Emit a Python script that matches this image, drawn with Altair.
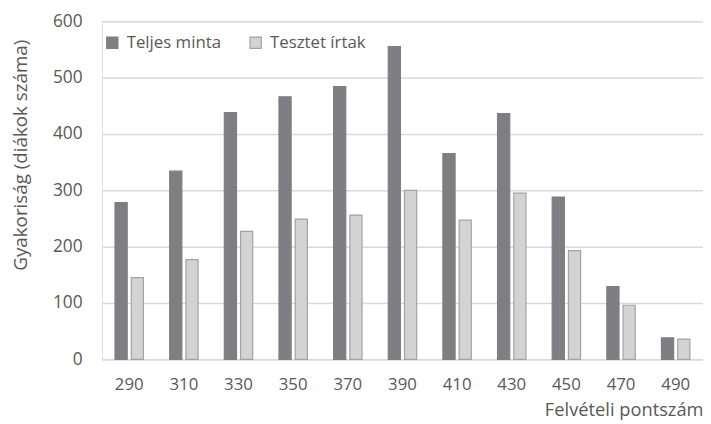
import altair as alt
import pandas as pd

scores = ["290", "310", "330", "350", "370", "390", "410", "430", "450", "470", "490"]
full_sample = [278, 334, 438, 466, 484, 555, 365, 436, 288, 129, 38]
took_test = [145, 177, 227, 249, 256, 300, 247, 295, 193, 96, 36]
series = ["Teljes minta", "Tesztet írtak"]

rows = []
for s, a, b in zip(scores, full_sample, took_test):
    rows.append({"score": s, "series": series[0], "value": a})
    rows.append({"score": s, "series": series[1], "value": b})
df = pd.DataFrame(rows)

FONT = "Open Sans"
TXT = "#595959"

chart = alt.Chart(df).mark_bar(strokeWidth=1.2).encode(
    x=alt.X("score:N", sort=scores,
            scale=alt.Scale(paddingInner=0.48, paddingOuter=0.24),
            axis=alt.Axis(title="Felvételi pontszám", labelAngle=0, ticks=False,
                          domainColor="#d9d9d9", domainWidth=1.5,
                          labelPadding=18, labelFontSize=17, labelColor=TXT,
                          labelFont=FONT, titleFont=FONT, titleFontSize=18.5,
                          titleFontWeight="normal", titleColor=TXT,
                          titleAnchor="end", titlePadding=8)),
    xOffset=alt.XOffset("series:N", sort=series,
                        scale=alt.Scale(paddingInner=0.25, paddingOuter=0)),
    y=alt.Y("value:Q", scale=alt.Scale(domain=[0, 600]),
            axis=alt.Axis(title="Gyakoriság (diákok száma)", values=[0, 100, 200, 300, 400, 500, 600],
                          ticks=False, domain=False, gridColor="#d9d9d9", gridWidth=1.5,
                          labelPadding=20, labelFontSize=17.5, labelColor=TXT,
                          labelFont=FONT, titleFont=FONT, titleFontSize=19,
                          titleFontWeight="normal", titleColor=TXT, titlePadding=22,
                          titleY=135)),
    color=alt.Color("series:N", sort=series,
                    scale=alt.Scale(domain=series, range=["#7f7f83", "#d3d3d3"]),
                    legend=alt.Legend(title=None, orient="none", legendX=2, legendY=13,
                                      direction="horizontal", symbolType="square",
                                      symbolSize=130, labelFontSize=17, labelColor=TXT,
                                      labelFont=FONT, columnPadding=26, labelOffset=6,
                                      symbolStrokeWidth=1.2)),
    stroke=alt.Stroke("series:N", sort=series,
                      scale=alt.Scale(domain=series, range=["#7f7f83", "#a3a3a3"]),
                      legend=None),
).properties(
    width=608, height=342,
    padding={"left": 95, "top": 11, "right": 0, "bottom": 63},
    autosize=alt.AutoSizeParams(type="none"),
).configure_view(stroke=None).configure(background="white")

chart.save("out.html", embed_options={"renderer": "svg", "actions": False})
